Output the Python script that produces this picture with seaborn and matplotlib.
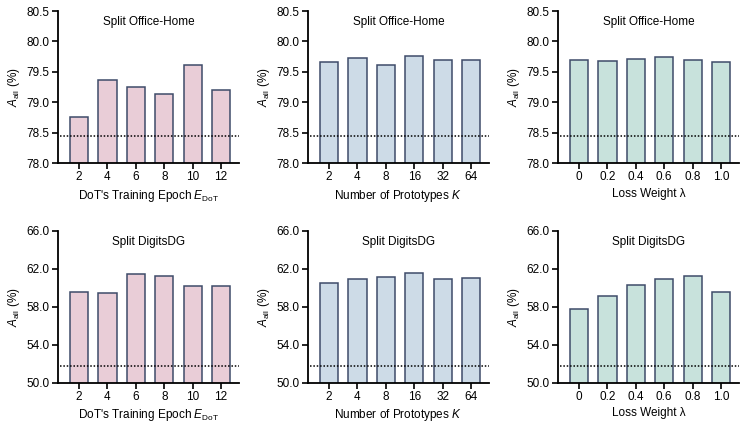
import matplotlib
matplotlib.use("Agg")
import matplotlib.pyplot as plt
import seaborn as sns
import pandas as pd

sns.set_theme(style="ticks")
plt.rcParams['font.family'] = ['Liberation Sans', 'DejaVu Sans']
plt.rcParams['mathtext.fontset'] = 'custom'
plt.rcParams['mathtext.rm'] = 'Liberation Sans'
plt.rcParams['mathtext.it'] = 'Liberation Sans:italic'
plt.rcParams['text.color'] = 'black'
plt.rcParams['axes.labelcolor'] = 'black'

# categories
epochs = ["2", "4", "6", "8", "10", "12"]
prototypes = ["2", "4", "8", "16", "32", "64"]
weights = ["0", "0.2", "0.4", "0.6", "0.8", "1.0"]

# Split Office-Home values
oh_epoch = [78.76, 79.36, 79.26, 79.13, 79.61, 79.20]
oh_proto = [79.66, 79.73, 79.61, 79.76, 79.70, 79.69]
oh_weight = [79.70, 79.68, 79.71, 79.74, 79.70, 79.66]
oh_baseline = 78.45

# Split DigitsDG values
dg_epoch = [59.58, 59.51, 61.51, 61.23, 60.21, 60.25]
dg_proto = [60.56, 60.98, 61.19, 61.61, 60.98, 61.02]
dg_weight = [57.79, 59.12, 60.35, 60.98, 61.23, 59.54]
dg_baseline = 51.75

oh_ticks = [78.0, 78.5, 79.0, 79.5, 80.0, 80.5]
dg_ticks = [50.0, 54.0, 58.0, 62.0, 66.0]

xlabels = ["DoT's Training Epoch $E_{\\mathrm{DoT}}$",
           "Number of Prototypes $K$",
           "Loss Weight λ"]
colors = ["#e9cdd7", "#cddbe7", "#c8e2dc"]
edge = "#3e4b69"

fig = plt.figure(figsize=(7.53, 4.26), dpi=100)
lefts = [0.077, 0.409, 0.741]
bottoms = [0.617, 0.101]
w, h = 0.240, 0.357

rows = [
    ("Split Office-Home", [oh_epoch, oh_proto, oh_weight], oh_baseline, oh_ticks),
    ("Split DigitsDG", [dg_epoch, dg_proto, dg_weight], dg_baseline, dg_ticks),
]
cats = [epochs, prototypes, weights]

for r, (title, series, base, ticks) in enumerate(rows):
    for c in range(3):
        ax = fig.add_axes([lefts[c], bottoms[r], w, h])
        df = pd.DataFrame({"x": cats[c], "y": series[c]})
        sns.barplot(data=df, x="x", y="y", order=cats[c], ax=ax,
                    color=colors[c], saturation=1, width=0.64,
                    edgecolor=edge, linewidth=1.1)
        ax.set_xlim(-0.74, 5.62)
        ax.set_ylim(ticks[0], ticks[-1])
        ax.set_yticks(ticks)
        ax.set_yticklabels([f"{t:.1f}" for t in ticks])
        ax.axhline(base, xmin=0.01, xmax=1.0, color="black", linestyle=(0, (1, 1.2)),
                   linewidth=1.1, zorder=5)
        ax.text(0.5, 0.928, title, transform=ax.transAxes, ha="center",
                va="center", fontsize=8.5)
        ax.set_xlabel(xlabels[c], fontsize=8.5, labelpad=3)
        ax.set_ylabel("$A_{\\mathrm{all}}$ (%)", fontsize=8.5, labelpad=3)
        for s in ["top", "right"]:
            ax.spines[s].set_visible(False)
        for s in ["left", "bottom"]:
            ax.spines[s].set_linewidth(1.3)
            ax.spines[s].set_color("black")
        ax.tick_params(axis="both", direction="out", length=4, width=1.2,
                       labelsize=8.5, colors="black", pad=2)

fig.savefig("out.png", dpi=100)
